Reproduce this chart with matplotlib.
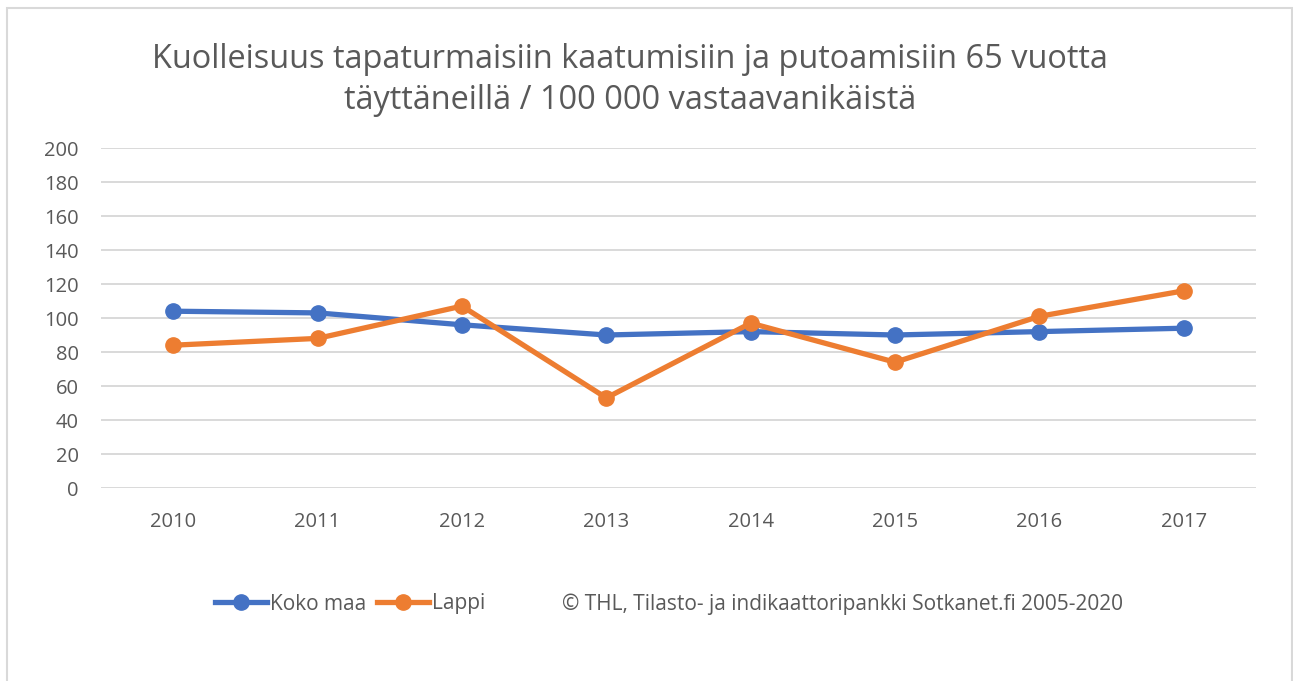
import matplotlib.pyplot as plt
from matplotlib.patches import Rectangle
from matplotlib.lines import Line2D

years = ['2010', '2011', '2012', '2013', '2014', '2015', '2016', '2017']
koko_maa = [104, 103, 96, 90, 92, 90, 92, 94]
lappi = [84, 88, 107, 53, 97, 74, 101, 116]

blue = '#4472c4'
orange = '#ed7d31'
grey_text = '#595959'
grid_col = '#d9d9d9'

plt.rcParams['font.family'] = ['Open Sans', 'DejaVu Sans']

fig = plt.figure(figsize=(12.93, 6.81), dpi=100)
W, H = 1293, 681

# chart border
fig.patches.append(Rectangle((7 / W, -0.05), (1292 - 7) / W, 1.05 - 8 / H,
                             transform=fig.transFigure, fill=False,
                             edgecolor=grid_col, linewidth=1.5))

ax = fig.add_axes([101 / W, 1 - 488 / H, (1256 - 101) / W, (488 - 148) / H])
x = range(len(years))
ax.plot(x, koko_maa, color=blue, lw=3.8, marker='o', ms=11, label='Koko maa', zorder=3)
ax.plot(x, lappi, color=orange, lw=3.8, marker='o', ms=11, label='Lappi', zorder=4)

ax.set_xlim(-0.5, len(years) - 0.5)
ax.set_ylim(0, 200)
ax.set_yticks(range(0, 201, 20))
ax.set_xticks(list(x))
ax.set_xticklabels(years)
ax.yaxis.grid(True, color=grid_col, lw=1.4)
ax.set_axisbelow(True)
for s in ax.spines.values():
    s.set_visible(False)
ax.tick_params(length=0, labelsize=14.5, colors=grey_text)
ax.tick_params(axis='x', pad=17)
ax.tick_params(axis='y', pad=16)

fig.text(630 / W, 1 - 80 / H,
         'Kuolleisuus tapaturmaisiin kaatumisiin ja putoamisiin 65 vuotta\ntäyttäneillä / 100 000 vastaavanikäistä',
         ha='center', va='center', fontsize=23.4, color=grey_text, linespacing=1.35)

handles = [Line2D([], [], color=blue, lw=3.8, marker='o', ms=11),
           Line2D([], [], color=orange, lw=3.8, marker='o', ms=11)]
fig.legend(handles, ['Koko maa', 'Lappi'], loc='center left',
           bbox_to_anchor=(215 / W, 1 - 604 / H), ncol=2, frameon=False,
           borderpad=0, borderaxespad=0,
           fontsize=15, labelcolor=grey_text, handlelength=2.5, handletextpad=0.15,
           columnspacing=0.5)
fig.text(562 / W, 1 - 604 / H, '© THL, Tilasto- ja indikaattoripankki Sotkanet.fi 2005-2020',
         ha='left', va='center', fontsize=15, color=grey_text)

fig.savefig('out.png', dpi=100)
